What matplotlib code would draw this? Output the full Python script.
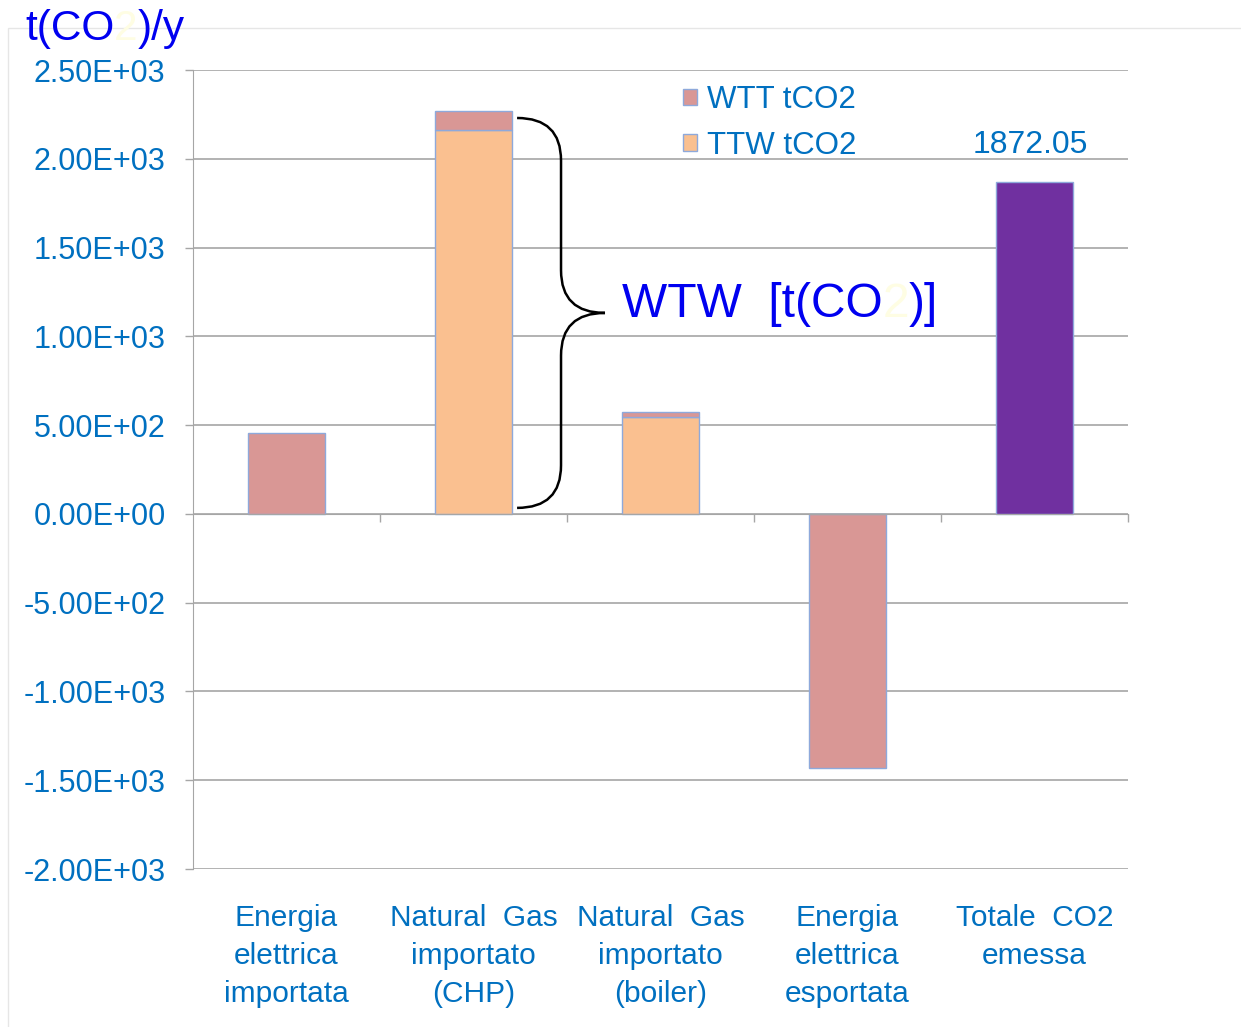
import matplotlib
matplotlib.use('Agg')
import matplotlib.pyplot as plt
import numpy as np
from matplotlib import patches, transforms
from matplotlib.path import Path
from matplotlib.ticker import FuncFormatter

categories = ['Energia\nelettrica\nimportata', 'Natural  Gas\nimportato\n(CHP)',
              'Natural  Gas\nimportato\n(boiler)', 'Energia\nelettrica\nesportata',
              'Totale  CO2\nemessa']
wtt_tco2 = [456, 107, 28, -1430, 0]
ttw_tco2 = [0, 2162, 546, 0, 0]
totale_co2 = [0, 0, 0, 0, 1872.05]
y_ticks = [-2000, -1500, -1000, -500, 0, 500, 1000, 1500, 2000, 2500]

TXT_BLUE = '#0070C0'
TITLE_BLUE = '#0000F0'
PALE = '#FEFDE3'
GRID = '#A6A6A6'
EDGE = '#8EA9DB'

plt.rcParams['font.family'] = ['Liberation Sans', 'DejaVu Sans']

fig = plt.figure(figsize=(12.41, 10.27), dpi=100)
ax = fig.add_axes([0.1555, 0.1538, 0.7535, 0.778])
renderer = fig.canvas.get_renderer()


def rich_text(x, y, pieces, transform, size):
    # lay out coloured pieces one after the other on a common baseline
    offset = 0
    for s, c in pieces:
        tr = transforms.offset_copy(transform, fig=fig, x=offset, y=0, units='dots')
        t = fig.text(x, y, s, color=c, transform=tr, fontsize=size, ha='left', va='baseline')
        offset += t.get_window_extent(renderer).width


x = np.arange(len(categories))
w = 0.41


def nz(vals):
    idx = [i for i, v in enumerate(vals) if v != 0]
    return idx, [vals[i] for i in idx]


i_ttw, v_ttw = nz(ttw_tco2)
i_wtt, v_wtt = nz(wtt_tco2)
i_tot, v_tot = nz(totale_co2)

h_ttw = ax.bar(x[i_ttw], v_ttw, width=w, color='#FAC090', edgecolor=EDGE, lw=1, label='TTW tCO2')
h_wtt = ax.bar(x[i_wtt], v_wtt, width=w, bottom=[ttw_tco2[i] for i in i_wtt],
               color='#D99795', edgecolor=EDGE, lw=1, label='WTT tCO2')
ax.bar(x[i_tot], v_tot, width=w, color='#7030A0', edgecolor=EDGE, lw=1)

for i, v in zip(i_tot, v_tot):
    ax.annotate(f'{v:.2f}', xy=(x[i], v), xytext=(-3, 26), textcoords='offset points',
                ha='center', va='center', fontsize=23, color=TXT_BLUE)

# axes styling (Excel-like)
ax.set_xlim(-0.5, len(categories) - 0.5)
ax.set_ylim(y_ticks[0], y_ticks[-1])
ax.set_yticks(y_ticks)
ax.yaxis.set_major_formatter(FuncFormatter(lambda v, p: f'{v:.2E}'))
ax.tick_params(axis='y', length=5.76, width=1, color=GRID, labelcolor=TXT_BLUE, labelsize=22, pad=14)
ax.yaxis.grid(True, color=GRID, lw=1.2)
ax.set_axisbelow(True)
for s in ['top', 'right']:
    ax.spines[s].set_visible(False)
ax.spines['left'].set_color(GRID)
ax.spines['bottom'].set_color(GRID)
ax.spines['bottom'].set_position(('data', 0))
ax.set_xticks(x + 0.5)
ax.set_xticklabels([])
ax.tick_params(axis='x', length=5.76, width=1, color=GRID)

for i, lab in enumerate(categories):
    ax.annotate(lab, xy=(x[i], 0), xycoords=('data', 'axes fraction'), xytext=(0, -25),
                textcoords='offset points', ha='center', va='top', fontsize=21.5,
                color=TXT_BLUE, linespacing=1.45)

ax.legend(handles=[h_wtt, h_ttw], loc='upper left', bbox_to_anchor=(0.524, 0.981),
          frameon=False, fontsize=22.5, labelcolor=TXT_BLUE, handlelength=0.45,
          handleheight=0.45, handletextpad=0.33, labelspacing=0.49, borderpad=0,
          borderaxespad=0)

# curly brace around the CHP bar
x0, xm, xt = 1.233, 1.468, 1.703
ytop, ybot = 2230, 34
ymid = (ytop + ybot) / 2
r = 240
verts = [(x0, ytop), (xm, ytop), (xm, ytop - r),
         (xm, ymid + r), (xm, ymid), (xt, ymid),
         (xm, ymid), (xm, ymid - r),
         (xm, ybot + r), (xm, ybot), (x0, ybot)]
codes = [Path.MOVETO, Path.CURVE3, Path.CURVE3,
         Path.LINETO, Path.CURVE3, Path.CURVE3,
         Path.CURVE3, Path.CURVE3,
         Path.LINETO, Path.CURVE3, Path.CURVE3]
ax.add_patch(patches.PathPatch(Path(verts, codes), fill=False, lw=1.8, ec='black'))

rich_text(1.794, 1109, [('WTW  [t(CO', TITLE_BLUE), ('2', PALE), (')]', TITLE_BLUE)],
          ax.transData, 34.5)

# title
rich_text(25 / 1241, 1 - 40 / 1027, [('t(CO', TITLE_BLUE), ('2', PALE), (')/y', TITLE_BLUE)],
          fig.transFigure, 30.5)

# chart area border
fig.patches.append(patches.Rectangle((8 / 1241, -0.01), 1, 1 - 28 / 1027 + 0.01,
                                     transform=fig.transFigure, fill=False,
                                     ec='#E6E6E6', lw=1))

fig.savefig('out.png', dpi=100)
